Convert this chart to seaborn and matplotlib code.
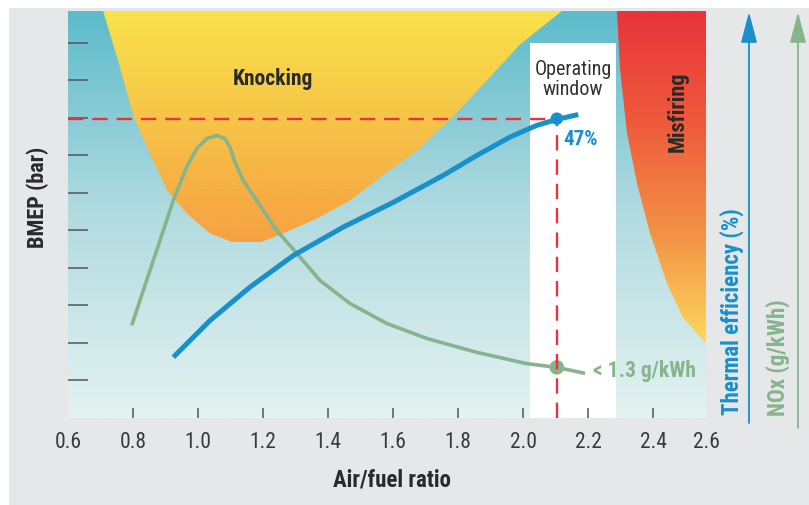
import numpy as np
import pandas as pd
import seaborn as sns
import matplotlib.pyplot as plt
from matplotlib.colors import LinearSegmentedColormap
from matplotlib.patches import Polygon, Rectangle, FancyArrowPatch

# --- data ---
afr_ticks = [0.6, 0.8, 1.0, 1.2, 1.4, 1.6, 1.8, 2.0, 2.2, 2.4]
afr_tick_labels = ['0.6', '0.8', '1.0', '1.2', '1.4', '1.6', '1.8', '2.0', '2.2', '2.4']
bmep_ticks = [1, 2, 3, 4, 5, 6, 7, 8, 9, 10]

# thermal efficiency curve (blue)
eff_afr = [0.924, 1.037, 1.160, 1.293, 1.447, 1.601, 1.755, 1.858, 1.960, 2.042, 2.104, 2.170]
eff_bmep = [1.62, 2.60, 3.49, 4.33, 5.09, 5.75, 6.47, 7.00, 7.49, 7.80, 7.96, 8.09]

# NOx curve (green)
nox_afr = [0.796, 0.842, 0.883, 0.924, 0.965, 0.996, 1.027, 1.058, 1.083, 1.098,
           1.114, 1.139, 1.181, 1.242, 1.304, 1.375, 1.468, 1.581, 1.704, 1.858,
           2.011, 2.104, 2.191]
nox_bmep = [2.47, 3.67, 4.73, 5.80, 6.69, 7.18, 7.45, 7.53, 7.45, 7.22,
            6.82, 6.33, 5.79, 5.00, 4.39, 3.67, 3.05, 2.52, 2.12, 1.75,
            1.45, 1.35, 1.19]

# operating point
op_afr = 2.104
op_bmep = 7.98
op_nox = 1.35

# knocking region boundary
knock_afr = [0.708, 0.754, 0.803, 0.852, 0.905, 0.966, 1.037, 1.108, 1.191, 1.262,
             1.366, 1.468, 1.569, 1.674, 1.785, 1.889, 1.991, 2.120]
knock_bmep = [10.85, 9.53, 8.01, 7.05, 6.07, 5.45, 4.92, 4.68, 4.68, 4.92,
              5.32, 5.80, 6.47, 7.13, 8.04, 9.00, 9.96, 10.85]

# misfiring region left boundary
misfire_afr = [2.289, 2.298, 2.320, 2.351, 2.391, 2.443, 2.492, 2.560]
misfire_bmep = [10.85, 9.35, 7.59, 6.25, 4.92, 3.59, 2.68, 2.01]

# operating window
window_afr = [2.022, 2.286]
window_top = 10.0

XMIN, XMAX = 0.6, 2.563
YMIN, YMAX = 0.0, 10.85

BLUE = '#1790cb'
GREEN = '#86b48c'
RED = '#e8333c'
DARK = '#2a2a2a'

sns.set_style('white')
plt.rcParams['font.family'] = ['Roboto Condensed', 'DejaVu Sans']

fig = plt.figure(figsize=(8.09, 5.05), dpi=100, facecolor='white')
fig.add_artist(Rectangle((9 / 809, 0), 1, 1 - 8 / 505, transform=fig.transFigure,
                         facecolor='#e6e7e9', edgecolor='none', zorder=-10))

ax = fig.add_axes([68 / 809, (505 - 418) / 505, 638 / 809, 407 / 505])
ax.set_xlim(XMIN, XMAX)
ax.set_ylim(YMIN, YMAX)

grad = np.linspace(0, 1, 256).reshape(-1, 1)

# background gradient
bg_cmap = LinearSegmentedColormap.from_list('bg', ['#e4f2f1', '#b2dbe0', '#5dbbcb'])
ax.imshow(grad, extent=[XMIN, XMAX, YMIN, YMAX], origin='lower', aspect='auto',
          cmap=bg_cmap, zorder=0)

# knocking region
knock_poly = Polygon(list(zip(knock_afr, knock_bmep)), closed=True, facecolor='none',
                     edgecolor='none')
ax.add_patch(knock_poly)
knock_cmap = LinearSegmentedColormap.from_list('knock', ['#f6a142', '#f6c247', '#f9e34b'])
im = ax.imshow(grad, extent=[XMIN, XMAX, min(knock_bmep), YMAX], origin='lower',
               aspect='auto', cmap=knock_cmap, zorder=1)
im.set_clip_path(knock_poly)

# misfiring region
mis_pts = list(zip(misfire_afr, misfire_bmep)) + [(XMAX, min(misfire_bmep)), (XMAX, YMAX)]
mis_poly = Polygon(mis_pts, closed=True, facecolor='none', edgecolor='none')
ax.add_patch(mis_poly)
mis_cmap = LinearSegmentedColormap.from_list('mis', ['#fdd95c', '#f39145', '#ee5a3b', '#e8343a'])
im2 = ax.imshow(grad, extent=[XMIN, XMAX, min(misfire_bmep), YMAX], origin='lower',
                aspect='auto', cmap=mis_cmap, zorder=1)
im2.set_clip_path(mis_poly)

# operating window
ax.fill_between(window_afr, YMIN, window_top, color='white', zorder=2, linewidth=0)

# curves
eff = pd.DataFrame({'afr': eff_afr, 'bmep': eff_bmep})
nox = pd.DataFrame({'afr': nox_afr, 'bmep': nox_bmep})
sns.lineplot(data=nox, x='afr', y='bmep', ax=ax, color=GREEN, linewidth=2.6,
             sort=False, estimator=None, zorder=3)
sns.lineplot(data=eff, x='afr', y='bmep', ax=ax, color=BLUE, linewidth=3.6,
             sort=False, estimator=None, zorder=3.5)
for ln in ax.lines:
    ln.set_solid_capstyle('butt')
    ln.set_solid_joinstyle('round')

# red dashed guide lines
ax.plot([XMIN, op_afr], [op_bmep, op_bmep], color=RED, lw=1.7, dashes=(6.5, 3.8), zorder=4.5)
ax.plot([op_afr, op_afr], [YMIN, op_bmep], color=RED, lw=1.7, dashes=(6.5, 3.8), zorder=4.5)

sns.scatterplot(x=[op_afr], y=[op_nox], ax=ax, color=GREEN, s=110, edgecolor='none', zorder=4)
sns.scatterplot(x=[op_afr], y=[op_bmep], ax=ax, color=BLUE, s=80, edgecolor='none', zorder=5)

# annotations
ax.text(1.231, 9.03, 'Knocking', ha='center', va='center', fontsize=15.5,
        fontweight='bold', color=DARK, zorder=6)
ax.text(2.154, 9.03, 'Operating\nwindow', ha='center', va='center', fontsize=14.5,
        color='#333333', linespacing=1.05, zorder=6)
ax.text(2.123, 7.43, '47%', ha='left', va='center', fontsize=15, fontweight='bold',
        color=BLUE, zorder=6)
ax.text(2.477, 8.17, 'Misfiring', ha='center', va='center', rotation=90, fontsize=16,
        fontweight='bold', color=DARK, zorder=6)
ax.text(2.215, 1.24, '< 1.3 g/kWh', ha='left', va='center', fontsize=15.5,
        fontweight='bold', color=GREEN, zorder=6)

# axes styling
for sp in ax.spines.values():
    sp.set_visible(False)
ax.set_axisbelow(False)
ax.set_xticks(afr_ticks + [XMAX])
ax.set_xticklabels(afr_tick_labels + ['2.6'])
ax.set_yticks(bmep_ticks)
ax.set_yticklabels([])
ax.tick_params(axis='x', bottom=True, direction='in', length=7.5, width=1.1,
               color='#555555', labelsize=15.5, labelcolor='#3a3a3a', pad=10)
ax.tick_params(axis='y', left=True, direction='in', length=14.5, width=1.1,
               color='#555555')
xt = ax.xaxis.get_major_ticks()
xt[0].tick1line.set_visible(False)
xt[-1].tick1line.set_visible(False)
ax.set_xlabel('')
ax.set_ylabel('')

fig.text(38 / 809, 1 - 197 / 505, 'BMEP (bar)', rotation=90, ha='center', va='center',
         fontsize=16, fontweight='bold', color=DARK)
fig.text(392 / 809, 1 - 480 / 505, 'Air/fuel ratio', ha='center', va='center',
         fontsize=16.5, fontweight='bold', color=DARK)
fig.text(732 / 809, 1 - 312 / 505, 'Thermal efficiency (%)', rotation=90, ha='center',
         va='center', fontsize=16.5, fontweight='bold', color=BLUE)
fig.text(778 / 809, 1 - 358 / 505, 'NOx (g/kWh)', rotation=90, ha='center',
         va='center', fontsize=16.5, fontweight='bold', color=GREEN)

for xpx, ybot, col in [(749, 423, BLUE), (798, 428, GREEN)]:
    fig.add_artist(FancyArrowPatch((xpx / 809, 1 - ybot / 505), (xpx / 809, 1 - 12 / 505),
                                   transform=fig.transFigure, color=col, lw=1.3,
                                   arrowstyle='-|>,head_length=1.9,head_width=0.5',
                                   mutation_scale=10, shrinkA=0, shrinkB=0))

fig.savefig('out.png', dpi=100, facecolor=fig.get_facecolor())
